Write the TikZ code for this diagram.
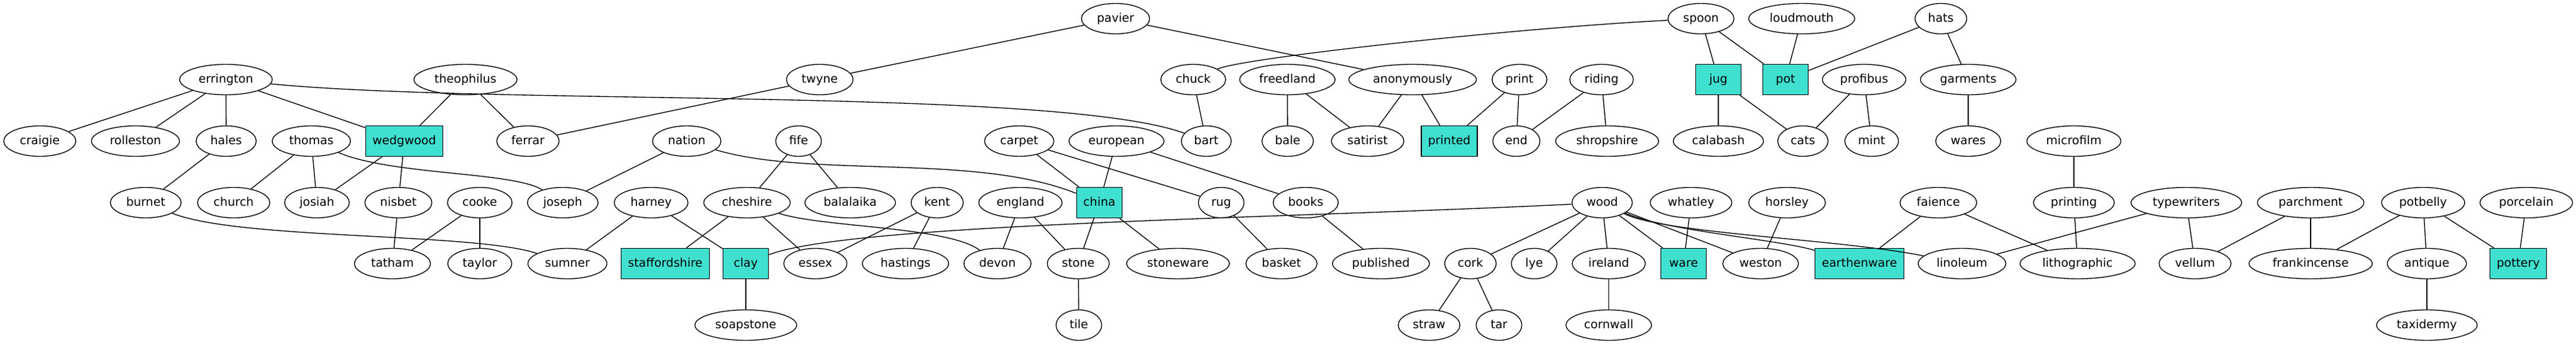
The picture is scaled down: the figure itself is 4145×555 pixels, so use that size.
\documentclass[tikz,border=0pt]{standalone}
\usepackage{fontspec}
\setmainfont{DejaVu Sans}
\usepackage{tikz}
\usetikzlibrary{shapes.geometric}

\definecolor{turquoise}{HTML}{40E0D0}

\tikzset{
  term/.style={draw, ellipse, line width=1pt, minimum width=54pt, minimum height=36pt,
    inner xsep=6.5pt, inner ysep=3pt, text height=10pt, text depth=1.6pt,
    font=\fontsize{14}{17}\selectfont},
  found/.style={draw, rectangle, fill=turquoise, line width=1pt, minimum width=54pt,
    minimum height=36pt, inner xsep=8pt, inner ysep=3pt, text height=10pt,
    text depth=1.6pt, font=\fontsize{14}{17}\selectfont}
}

\begin{document}
\begin{tikzpicture}[x=0.7353pt, y=-0.7353pt, line width=1pt]

\useasboundingbox (0,0) rectangle (4145,555);

% rank 0
\draw (1795,30) node[term] (pavier) {pavier};

\draw (2737,30) node[term] (spoon) {spoon};

\draw (2899,30) node[term] (loudmouth) {loudmouth};

\draw (3123,30) node[term] (hats) {hats};

% rank 1
\draw (363.5,128) node[term] (errington) {errington};

\draw (749,128) node[term] (theophilus) {theophilus};

\draw (1319,128) node[term] (twyne) {twyne};

\draw (1920,128) node[term] (chuck) {chuck};

\draw (2071.5,128) node[term] (freedland) {freedland};

\draw (2273,128) node[term] (anonymously) {anonymously};

\draw (2445,128) node[term] (print) {print};

\draw (2577,128) node[term] (riding) {riding};

\draw (2765,128) node[found] (jug) {jug};

\draw (2873,128) node[found] (pot) {pot};

\draw (2999.5,128) node[term] (profibus) {profibus};

\draw (3167,128) node[term] (garments) {garments};

% rank 2
\draw (64,227) node[term] (craigie) {craigie};

\draw (218,227) node[term] (rolleston) {rolleston};

\draw (364,227) node[term] (hales) {hales};

\draw (501,227) node[term] (thomas) {thomas};

\draw (650.5,227) node[found] (wedgwood) {wedgwood};

\draw (849.5,227) node[term] (ferrar) {ferrar};

\draw (1105,227) node[term] (nation) {nation};

\draw (1285,227) node[term] (fife) {fife};

\draw (1640,227) node[term] (carpet) {carpet};

\draw (1796.5,227) node[term] (european) {european};

\draw (1941,227) node[term] (bart) {bart};

\draw (2072,227) node[term] (bale) {bale};

\draw (2200.6,227) node[term] (satirist) {satirist};

\draw (2332,227) node[found] (printed) {printed};

\draw (2440,227) node[term] (end) {end};

\draw (2586,227) node[term] (shropshire) {shropshire};

\draw (2765,227) node[term] (calabash) {calabash};

\draw (2901,227) node[term] (cats) {cats};

\draw (3011.6,227) node[term] (mint) {mint};

\draw (3167,227) node[term] (wares) {wares};

\draw (3337,227) node[term] (microfilm) {microfilm};

% rank 3
\draw (234.5,326) node[term] (burnet) {burnet};

\draw (376,326) node[term] (church) {church};

\draw (510,326) node[term] (josiah) {josiah};

\draw (641,326) node[term] (nisbet) {nisbet};

\draw (772,326) node[term] (cooke) {cooke};

\draw (905.5,326) node[term] (joseph) {joseph};

\draw (1047.7,326) node[term] (harney) {harney};

\draw (1202,326) node[term] (cheshire) {cheshire};

\draw (1368,326) node[term] (balalaika) {balalaika};

\draw (1508,326) node[term] (kent) {kent};

\draw (1642,326) node[term] (england) {england};

\draw (1769,326) node[found] (china) {china};

\draw (1965,326) node[term] (rug) {rug};

\draw (2101,326) node[term] (books) {books};

\draw (2578,326) node[term] (wood) {wood};

\draw (2721,326) node[term] (whatley) {whatley};

\draw (2875.5,326) node[term] (horsley) {horsley};

\draw (3119,326) node[term] (faience) {faience};

\draw (3337,326) node[term] (printing) {printing};

\draw (3518,326) node[term] (typewriters) {typewriters};

\draw (3718,326) node[term] (parchment) {parchment};

\draw (3899,326) node[term] (potbelly) {potbelly};

\draw (4065,326) node[term] (porcelain) {porcelain};

% rank 4
\draw (631.5,424) node[term] (tatham) {tatham};

\draw (772,424) node[term] (taylor) {taylor};

\draw (913,424) node[term] (sumner) {sumner};

\draw (1070.5,424) node[found] (staffordshire) {staffordshire};

\draw (1200,424) node[found] (clay) {clay};

\draw (1312,424) node[term] (essex) {essex};

\draw (1457,424) node[term] (hastings) {hastings};

\draw (1605,424) node[term] (devon) {devon};

\draw (1735,424) node[term] (stone) {stone};

\draw (1895.5,424) node[term] (stoneware) {stoneware};

\draw (2062,424) node[term] (basket) {basket};

\draw (2222,424) node[term] (published) {published};

\draw (2366,424) node[term] (cork) {cork};

\draw (2468.6,424) node[term] (lye) {lye};

\draw (2588.6,424) node[term] (ireland) {ireland};

\draw (2709,424) node[found] (ware) {ware};

\draw (2833,424) node[term] (weston) {weston};

\draw (2992,424) node[found] (earthenware) {earthenware};

\draw (3157,424) node[term] (linoleum) {linoleum};

\draw (3343,424) node[term] (lithographic) {lithographic};

\draw (3532,424) node[term] (vellum) {vellum};

\draw (3718,424) node[term] (frankincense) {frankincense};

\draw (3905,424) node[term] (antique) {antique};

\draw (4052,424) node[found] (pottery) {pottery};

% rank 5
\draw (1200,523) node[term] (soapstone) {soapstone};

\draw (1736,523) node[term] (tile) {tile};

\draw (2299.5,523) node[term] (straw) {straw};

\draw (2412,523) node[term] (tar) {tar};

\draw (2588.6,523) node[term] (cornwall) {cornwall};

\draw (3905,523) node[term] (taxidermy) {taxidermy};

% edges
\draw (errington) -- (craigie);

\draw (errington) -- (rolleston);

\draw (errington) -- (hales);

\draw (errington) -- (wedgwood);

\draw (errington) .. controls +(436,42) and +(-241,-87) .. (bart);

\draw (theophilus) -- (wedgwood);

\draw (theophilus) -- (ferrar);

\draw (twyne) -- (ferrar);

\draw (pavier) -- (twyne);

\draw (pavier) -- (anonymously);

\draw (hales) -- (burnet);

\draw (thomas) -- (church);

\draw (thomas) -- (josiah);

\draw (thomas) .. controls +(130,55) and +(-80,-50) .. (joseph);

\draw (wedgwood) -- (josiah);

\draw (wedgwood) -- (nisbet);

\draw (nisbet) -- (tatham);

\draw (cooke) -- (tatham);

\draw (cooke) -- (taylor);

\draw (burnet) .. controls +(150,60) and +(-150,-50) .. (sumner);

\draw (nation) -- (joseph);

\draw (nation) .. controls +(200,60) and +(-200,-80) .. (china);

\draw (harney) -- (sumner);

\draw (harney) -- (clay);

\draw (chuck) -- (bart);

\draw (chuck) .. controls +(80,-35) and +(-300,15) .. (spoon);

\draw (fife) -- (cheshire);

\draw (fife) -- (balalaika);

\draw (carpet) -- (china);

\draw (carpet) -- (rug);

\draw (european) -- (china);

\draw (european) -- (books);

\draw (cheshire) -- (staffordshire);

\draw (cheshire) -- (essex);

\draw (cheshire) .. controls +(120,40) and +(-80,-60) .. (devon);

\draw (kent) -- (essex);

\draw (kent) -- (hastings);

\draw (england) -- (devon);

\draw (england) -- (stone);

\draw (china) -- (stone);

\draw (china) -- (stoneware);

\draw (clay) .. controls +(170,-65) and +(-500,25) .. (wood);

\draw (clay) -- (soapstone);

\draw (stone) -- (tile);

\draw (rug) -- (basket);

\draw (books) -- (published);

\draw (freedland) -- (bale);

\draw (freedland) -- (satirist);

\draw (anonymously) -- (satirist);

\draw (anonymously) -- (printed);

\draw (print) -- (printed);

\draw (print) -- (end);

\draw (riding) -- (end);

\draw (riding) -- (shropshire);

\draw (spoon) -- (jug);

\draw (spoon) -- (pot);

\draw (loudmouth) -- (pot);

\draw (hats) -- (pot);

\draw (hats) -- (garments);

\draw (jug) -- (calabash);

\draw (jug) -- (cats);

\draw (profibus) -- (cats);

\draw (profibus) -- (mint);

\draw (garments) -- (wares);

\draw (wood) -- (cork);

\draw (wood) -- (lye);

\draw (wood) -- (ireland);

\draw (wood) -- (ware);

\draw (wood) -- (weston);

\draw (wood) .. controls +(100,45) and +(-132,-39) .. (earthenware);

\draw (wood) .. controls +(100,50) and +(-200,-40) .. (linoleum);

\draw (whatley) -- (ware);

\draw (horsley) -- (weston);

\draw (cork) -- (straw);

\draw (cork) -- (tar);

\draw (ireland) -- (cornwall);

\draw (faience) -- (earthenware);

\draw (faience) -- (lithographic);

\draw (microfilm) -- (printing);

\draw (printing) -- (lithographic);

\draw (typewriters) -- (linoleum);

\draw (typewriters) -- (vellum);

\draw (parchment) -- (vellum);

\draw (parchment) -- (frankincense);

\draw (potbelly) -- (frankincense);

\draw (potbelly) -- (antique);

\draw (potbelly) -- (pottery);

\draw (porcelain) -- (pottery);

\draw (antique) -- (taxidermy);

\end{tikzpicture}
\end{document}
